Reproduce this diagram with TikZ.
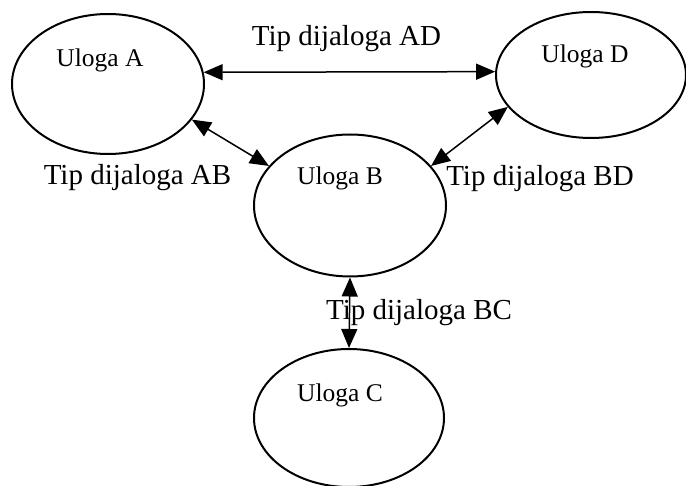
\documentclass[tikz,border=0pt]{standalone}
\usepackage{fontspec}
\setmainfont{Liberation Serif}
\usetikzlibrary{arrows.meta,shapes.geometric}

\tikzset{
  role/.style={draw, ellipse, line width=2pt, inner sep=0pt},
  rolename/.style={font=\fontsize{25.5}{30}\selectfont, anchor=base, inner sep=0pt},
  dialog/.style={font=\fontsize{29}{34}\selectfont, anchor=base, inner sep=0pt},
  link/.style={line width=1.5pt,
    {Triangle[length=19pt,width=16pt]}-{Triangle[length=19pt,width=16pt]}}
}

\begin{document}
\begin{tikzpicture}[x=1pt,y=-1pt]
  \useasboundingbox (0,0) rectangle (686,486);

  % roles
  \node[role, minimum width=192pt, minimum height=140pt] (A) at (108,84) {};
  \node[role, minimum width=190pt, minimum height=126pt] (D) at (591,75) {};
  \node[role, minimum width=192pt, minimum height=142pt] (B) at (350,205.5) {};
  \node[role, minimum width=190pt, minimum height=138pt] (C) at (349,418) {};

  \node[rolename] (tA) at (100,67) {Uloga A};
  \node[rolename] (tD) at (585,63) {Uloga D};
  \node[rolename] (tB) at (340,185) {Uloga B};
  \node[rolename] (tC) at (340,402) {Uloga C};

  % dialog links
  \draw[link] (A.7) -- (D.178);
  \draw[link] (A.-23.4) -- (B.154.3);
  \draw[link] (B.26) -- (D.-159);
  \draw[link] (B.south) -- (C.north);

  % dialog types
  \node[dialog] (lAD) at (346.5,46) {Tip dijaloga AD};
  \node[dialog] (lAB) at (137.5,185) {Tip dijaloga AB};
  \node[dialog] (lBD) at (540,186) {Tip dijaloga BD};
  \node[dialog] (lBC) at (419,320) {Tip dijaloga BC};
\end{tikzpicture}
\end{document}
